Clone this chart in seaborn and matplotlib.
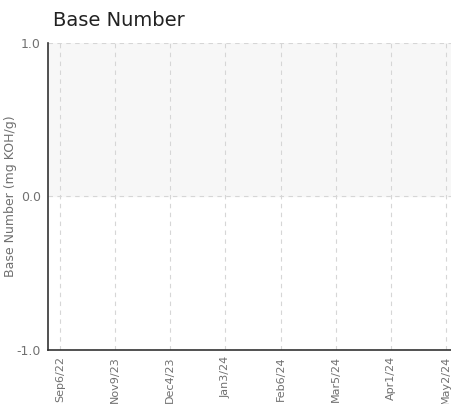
import numpy as np
import pandas as pd
import seaborn as sns
import matplotlib.pyplot as plt

# sample dates (x categories) and measured base number - no readings plotted
dates = ['Sep6/22', 'Nov9/23', 'Dec4/23', 'Jan3/24', 'Feb6/24', 'Mar5/24', 'Apr1/24', 'May2/24']
base_number = [np.nan] * len(dates)
band_low, band_high = 0.0, 1.0
y_ticks = [-1.0, 0.0, 1.0]

df = pd.DataFrame({'date': dates, 'bn': base_number})

sns.set_style('white')
plt.rcParams['font.family'] = ['DejaVu Sans']

fig = plt.figure(figsize=(4.51, 4.04), dpi=100)
ax = fig.add_axes([0.1064, 0.1337, 0.92, 0.76])

pos = np.arange(len(dates))
sns.lineplot(x=pos, y=df['bn'], ax=ax, color='#3a6fb0')

ax.axhspan(band_low, band_high, color='#f7f7f7', zorder=0)

ax.set_xlim(-0.22, len(dates) - 1 + 0.31)
ax.set_ylim(-1.0, 1.0)
ax.set_xticks(pos)
ax.set_xticklabels(dates, rotation=90, color='#707070', fontsize=8)
ax.set_yticks(y_ticks)
ax.set_yticklabels([f'{v:.1f}' for v in y_ticks], color='#707070', fontsize=9)

ax.grid(True, linestyle=(0, (4, 4)), color='#d6d6d6', linewidth=0.8)
ax.set_axisbelow(True)

for s in ['top', 'right']:
    ax.spines[s].set_visible(False)
for s in ['left', 'bottom']:
    ax.spines[s].set_color('#333333')
    ax.spines[s].set_linewidth(1.2)

ax.tick_params(axis='y', direction='out', length=4, width=1, color='#333333', pad=1)
ax.tick_params(axis='x', direction='inout', length=7, width=1, color='#333333', pad=1)

ax.set_xlabel('')
ax.set_ylabel('Base Number (mg KOH/g)', color='#707070', fontsize=9)
ax.yaxis.set_label_coords(-0.074, 0.5)
fig.text(0.118, 0.935, 'Base Number', fontsize=14, color='#222222')

fig.savefig('out.png', dpi=100)
